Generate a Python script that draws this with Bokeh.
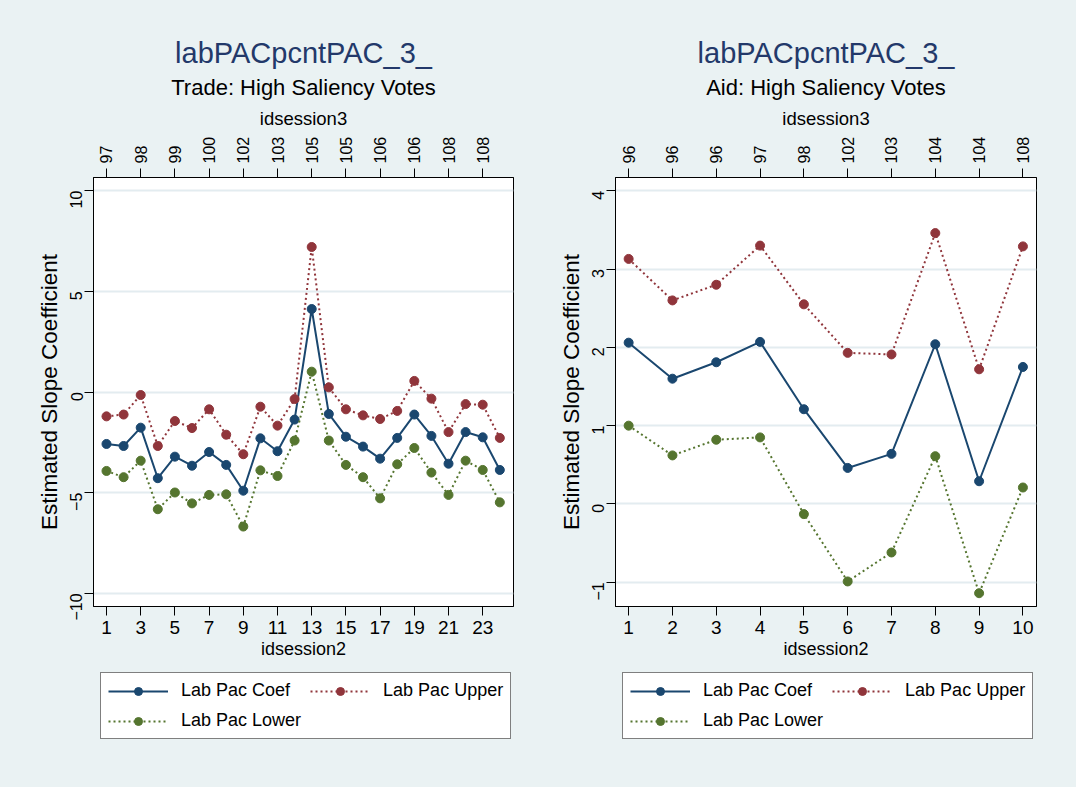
import math
from bokeh.plotting import figure
from bokeh.models import LinearAxis, FixedTicker, Title, Legend, LegendItem, Range1d
from bokeh.layouts import row, column
from bokeh.embed import file_html
from bokeh.resources import INLINE

# ---------------- data ----------------
# Left panel: Trade
trade_idsession2 = list(range(1, 25))
trade_coef = [-2.58, -2.68, -1.77, -4.28, -3.21, -3.66, -2.98, -3.62, -4.90, -2.30, -2.94, -1.37,
              4.12, -1.09, -2.22, -2.71, -3.31, -2.28, -1.12, -2.18, -3.56, -1.99, -2.25, -3.87]
trade_upper = [-1.21, -1.12, -0.15, -2.68, -1.44, -1.79, -0.86, -2.12, -3.09, -0.73, -1.67, -0.35,
               7.20, 0.23, -0.86, -1.16, -1.34, -0.94, 0.55, -0.33, -1.99, -0.60, -0.63, -2.28]
trade_lower = [-3.92, -4.23, -3.41, -5.82, -4.99, -5.53, -5.11, -5.08, -6.68, -3.89, -4.17, -2.41,
               1.01, -2.41, -3.62, -4.23, -5.28, -3.59, -2.78, -4.00, -5.11, -3.41, -3.87, -5.48]
trade_x_ticks = [1, 3, 5, 7, 9, 11, 13, 15, 17, 19, 21, 23]
trade_top_labels = ["97", "98", "99", "100", "102", "103", "105", "105", "106", "106", "108", "108"]
trade_y_ticks = [-10, -5, 0, 5, 10]

# Right panel: Aid
aid_idsession2 = list(range(1, 11))
aid_coef = [2.06, 1.60, 1.81, 2.07, 1.21, 0.46, 0.64, 2.04, 0.29, 1.75]
aid_upper = [3.13, 2.60, 2.80, 3.30, 2.55, 1.93, 1.91, 3.46, 1.72, 3.29]
aid_lower = [1.00, 0.62, 0.82, 0.85, -0.13, -0.99, -0.62, 0.61, -1.14, 0.21]
aid_x_ticks = [1, 2, 3, 4, 5, 6, 7, 8, 9, 10]
aid_top_labels = ["96", "96", "96", "97", "98", "102", "103", "104", "104", "108"]
aid_y_ticks = [-1, 0, 1, 2, 3, 4]

main_title = "labPACpcntPAC_3_"
trade_subtitle = "Trade: High Saliency Votes"
aid_subtitle = "Aid: High Saliency Votes"
series_names = ["Lab Pac Coef", "Lab Pac Upper", "Lab Pac Lower"]

# ---------------- style ----------------
BG = "#EAF2F3"
GRID = "#E3ECF0"
NAVY = "#1A476F"
MAROON = "#90353B"
GREEN = "#55752F"
TITLE_C = "#23396A"
FONT = "Liberation Sans"
SERIES_STYLE = [(NAVY, "solid"), (MAROON, "2 3"), (GREEN, "2 3")]


def style_axis(ax, label_size, orient=None):
    ax.major_tick_out = 9
    ax.major_tick_in = 0
    ax.minor_tick_out = 0
    ax.minor_tick_in = 0
    ax.axis_line_color = "black"
    ax.major_tick_line_color = "black"
    ax.major_label_text_font = FONT
    ax.major_label_text_font_size = label_size
    ax.major_label_text_color = "black"
    ax.axis_label_text_font = FONT
    ax.axis_label_text_font_style = "normal"
    ax.axis_label_text_color = "black"
    if orient is not None:
        ax.major_label_orientation = orient


def make_panel(xs, coef, upper, lower, x_ticks, top_labels, y_ticks, xr, yr,
               subtitle, border_left, border_right):
    p = figure(width=538, height=666, output_backend="svg", toolbar_location=None,
               x_range=Range1d(*xr), y_range=Range1d(*yr),
               min_border_left=border_left, min_border_right=border_right,
               min_border_top=177, min_border_bottom=60)
    p.border_fill_color = BG
    p.background_fill_color = "white"
    p.outline_line_color = "black"
    p.outline_line_width = 1
    p.xgrid.visible = False
    p.ygrid.ticker = FixedTicker(ticks=y_ticks)
    p.ygrid.grid_line_color = GRID
    p.ygrid.grid_line_width = 2

    # bottom axis
    xa = p.xaxis[0]
    xa.ticker = FixedTicker(ticks=x_ticks)
    xa.axis_label = "idsession2"
    style_axis(xa, "19px")
    xa.axis_label_text_font_size = "18px"
    xa.major_label_standoff = 5
    xa.axis_label_standoff = 2

    # left axis
    ya = p.yaxis[0]
    ya.ticker = FixedTicker(ticks=y_ticks)
    ya.axis_label = "Estimated Slope Coefficient"
    style_axis(ya, "16px", math.pi / 2)
    ya.axis_label_text_font_size = "22.5px"
    ya.major_label_standoff = 8
    ya.axis_label_standoff = 0

    # top axis
    ta = LinearAxis(ticker=FixedTicker(ticks=x_ticks),
                    major_label_overrides={t: l for t, l in zip(x_ticks, top_labels)})
    ta.axis_label = "idsession3"
    style_axis(ta, "16px", math.pi / 2)
    ta.axis_label_text_font_size = "18.5px"
    ta.major_label_standoff = 5
    ta.axis_label_standoff = 5
    p.add_layout(ta, "above")

    p.add_layout(Title(text=subtitle, align="center", text_font=FONT, text_font_size="22px",
                       text_font_style="normal", text_color="black", standoff=9), "above")
    p.add_layout(Title(text=main_title, align="center", text_font=FONT, text_font_size="29px",
                       text_font_style="normal", text_color=TITLE_C, standoff=0), "above")

    for vals, (col, dash) in zip([coef, upper, lower], SERIES_STYLE):
        p.line(xs, vals, line_color=col, line_width=2, line_dash=dash)
        p.scatter(xs, vals, size=9, fill_color=col, line_color=col)
    return p


def make_legend(xs, coef, upper, lower, border_left, border_right):
    # the legend gets its own strip; its renderers hold the series but lie outside its view
    q = figure(width=538, height=121, output_backend="svg", toolbar_location=None,
               x_axis_type=None, y_axis_type=None,
               x_range=Range1d(-1000, -999), y_range=Range1d(-1000, -999),
               min_border_left=border_left, min_border_right=border_right,
               min_border_top=0, min_border_bottom=0)
    q.border_fill_color = BG
    q.background_fill_color = BG
    q.outline_line_color = None
    q.xgrid.visible = False
    q.ygrid.visible = False
    items = []
    for name, vals, (col, dash) in zip(series_names, [coef, upper, lower], SERIES_STYLE):
        lr = q.line(xs, vals, line_color=col, line_width=2, line_dash=dash)
        sr = q.scatter(xs, vals, size=9, fill_color=col, line_color=col)
        items.append(LegendItem(label=name, renderers=[lr, sr]))
    leg = Legend(items=items, orientation="horizontal", ncols=2, location=(7, 48),
                 glyph_width=60, glyph_height=20, label_standoff=13, label_width=100,
                 label_height=20, spacing=9, padding=7, margin=0,
                 label_text_font=FONT, label_text_font_size="18px", label_text_color="black",
                 border_line_color="black", border_line_width=1,
                 background_fill_color="white", background_fill_alpha=1.0)
    q.add_layout(leg, "center")
    return q


left = make_panel(trade_idsession2, trade_coef, trade_upper, trade_lower, trade_x_ticks,
                  trade_top_labels, trade_y_ticks, (0.24, 24.8), (-10.65, 10.65),
                  trade_subtitle, 93, 25)
right = make_panel(aid_idsession2, aid_coef, aid_upper, aid_lower, aid_x_ticks,
                   aid_top_labels, aid_y_ticks, (0.70, 10.31), (-1.31, 4.17),
                   aid_subtitle, 77, 40)
left_leg = make_legend(trade_idsession2, trade_coef, trade_upper, trade_lower, 93, 25)
right_leg = make_legend(aid_idsession2, aid_coef, aid_upper, aid_lower, 77, 40)

bg_style = {"background-color": BG}
layout = row(column(left, left_leg, spacing=0, styles=bg_style),
             column(right, right_leg, spacing=0, styles=bg_style),
             spacing=0, styles=bg_style)
open("out.html", "w").write(file_html(layout, INLINE))
